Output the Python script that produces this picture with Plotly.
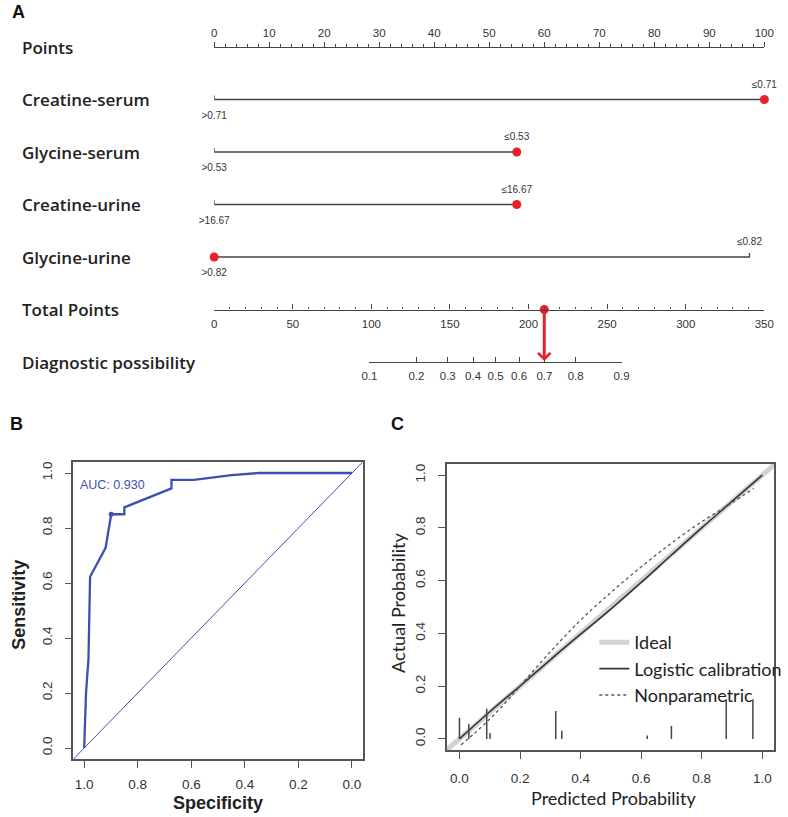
import plotly.graph_objects as go

W, H = 788, 817

# ---------------- Panel A: nomogram data ----------------
row_labels = ["Points", "Creatine-serum", "Glycine-serum", "Creatine-urine",
              "Glycine-urine", "Total Points", "Diagnostic possibility"]
variables = ["Creatine-serum", "Glycine-serum", "Creatine-urine", "Glycine-urine"]
low_labels = [">0.71", ">0.53", ">16.67", ">0.82"]
high_labels = ["≤0.71", "≤0.53", "≤16.67", "≤0.82"]
low_points = [0, 0, 0, 0]
high_points = [100, 55, 55, 97.3]
selected_points = [100, 55, 55, 0]
points_ticks = list(range(0, 101, 10))
total_ticks = list(range(0, 351, 50))
prob_labels = ["0.1", "0.2", "0.3", "0.4", "0.5", "0.6", "0.7", "0.8", "0.9"]
prob_points = [98.8, 128.7, 148.6, 164.7, 179.0, 194.0, 210.1, 230.0, 259.2]

# ---------------- Panel B: ROC data ----------------
roc_spec = [1.0, 0.993, 0.984, 0.981, 0.978, 0.92, 0.901, 0.899, 0.85, 0.85,
            0.674, 0.674, 0.59, 0.518, 0.45, 0.348, 0.0]
roc_sens = [0.0, 0.203, 0.322, 0.442, 0.623, 0.728, 0.83, 0.85, 0.85, 0.875,
            0.944, 0.975, 0.975, 0.984, 0.992, 1.0, 1.0]
roc_dot = (0.899, 0.85)
auc_text = "AUC: 0.930"
diag_spec = [1.04, -0.04]

# ---------------- Panel C: calibration data ----------------
ideal_x = [-0.05, 1.05]
logit_pred = [0.0, 0.1, 0.2, 0.3, 0.4, 0.5, 0.6, 0.7, 0.8, 0.9, 1.0]
logit_act = [0.0, 0.103, 0.2, 0.3, 0.397, 0.492, 0.593, 0.697, 0.8, 0.9, 1.0]
np_pred = [0.005, 0.05, 0.1, 0.15, 0.2, 0.3, 0.4, 0.5, 0.6, 0.7, 0.8, 0.9, 0.972]
np_act = [-0.023, 0.022, 0.075, 0.135, 0.2, 0.33, 0.45, 0.555, 0.652, 0.742, 0.823, 0.895, 0.95]
rug_pos = [0.0, 0.031, 0.09, 0.101, 0.318, 0.338, 0.62, 0.70, 0.881, 0.969]
rug_h = [0.08, 0.057, 0.114, 0.022, 0.106, 0.031, 0.013, 0.049, 0.15, 0.15]

# ---------------- layout constants ----------------
RED = "#e8202a"
AXC = "#444444"
BLUE = "#3c50b4"
TICKFONT_A = dict(family="Liberation Sans Narrow, Arial Narrow, Liberation Sans, Arial", size=11.5, color="#333")
LVLFONT = dict(family="Liberation Sans, Arial", size=10, color="#333")
LABFONT = dict(family="Open Sans, sans-serif", size=17, color="#222", weight=600)
TICKFONT = dict(family="Liberation Sans, Arial", size=13.5, color="#333")
CFONT = dict(family="Lato, Open Sans, sans-serif", size=18, color="#222")

A_L, A_R = 211, 774          # pixel ends of Points / Total Points axes
ROW0, ROWSTEP = 47, 52.5     # pixel y of first row and spacing
A_BOTTOM = 395


def px(x):
    return x / W


def py(y):
    return 1 - y / H


def row_px(i):
    return ROW0 + ROWSTEP * i


fig = go.Figure()

# --- variable lines (with small end ticks) ---
lx, ly = [], []
tk = 0.075
for i, (lo, hi) in enumerate(zip(low_points, high_points)):
    r = i + 1
    lx += [lo, lo, hi, hi, None]
    ly += [r - tk, r, r, r - tk, None]
fig.add_trace(go.Scatter(x=lx, y=ly, mode="lines", line=dict(color=AXC, width=1.3),
                         xaxis="x", yaxis="y", hoverinfo="skip", showlegend=False, cliponaxis=False))

rows_var = [i + 1 for i in range(len(variables))]
fig.add_trace(go.Scatter(x=low_points, y=[r + 0.32 for r in rows_var], text=low_labels, mode="text",
                         textfont=LVLFONT, xaxis="x", yaxis="y", showlegend=False, cliponaxis=False))
fig.add_trace(go.Scatter(x=high_points, y=[r - 0.27 for r in rows_var], text=high_labels, mode="text",
                         textfont=LVLFONT, xaxis="x", yaxis="y", showlegend=False, cliponaxis=False))
fig.add_trace(go.Scatter(x=selected_points, y=rows_var, mode="markers",
                         marker=dict(color=RED, size=9), xaxis="x", yaxis="y",
                         showlegend=False, cliponaxis=False))

total = sum(selected_points)
fig.add_trace(go.Scatter(x=[total], y=[5], mode="markers", marker=dict(color=RED, size=9),
                         xaxis="x2", yaxis="y", showlegend=False, cliponaxis=False))
fig.add_trace(go.Scatter(x=[prob_points[0]], y=[6], mode="markers", marker=dict(opacity=0),
                         xaxis="x3", yaxis="y", showlegend=False, hoverinfo="skip"))

fig.add_annotation(x=total, y=6, xref="x2", yref="y", ax=total, ay=5, axref="x2", ayref="y",
                   text="", showarrow=True, arrowhead=4, arrowsize=0.8, arrowwidth=3,
                   arrowcolor=RED, standoff=1, startstandoff=0)

for i, lab in enumerate(row_labels):
    fig.add_annotation(x=px(12), y=i, xref="paper", yref="y", text=lab, showarrow=False,
                       xanchor="left", yanchor="middle", font=LABFONT)

# ---------------- Panel B traces ----------------
fig.add_trace(go.Scatter(x=diag_spec, y=[1 - s for s in diag_spec], mode="lines",
                         line=dict(color=BLUE, width=1), xaxis="x4", yaxis="y4",
                         showlegend=False, hoverinfo="skip"))
fig.add_trace(go.Scatter(x=roc_spec, y=roc_sens, mode="lines", line=dict(color=BLUE, width=2.3),
                         xaxis="x4", yaxis="y4", showlegend=False))
fig.add_trace(go.Scatter(x=[roc_dot[0]], y=[roc_dot[1]], mode="markers",
                         marker=dict(color=BLUE, size=5), xaxis="x4", yaxis="y4", showlegend=False))
fig.add_annotation(x=0.896, y=0.958, xref="x4", yref="y4", text=auc_text, showarrow=False,
                   xanchor="center", yanchor="middle",
                   font=dict(family="Liberation Sans, Arial", size=12.5, color=BLUE))

# ---------------- Panel C traces ----------------
fig.add_trace(go.Scatter(x=ideal_x, y=ideal_x, mode="lines", name="Ideal",
                         line=dict(color="#d2d2d2", width=5), xaxis="x5", yaxis="y5"))
fig.add_trace(go.Scatter(x=logit_pred, y=logit_act, mode="lines", name="Logistic calibration",
                         line=dict(color="#333333", width=1.6, shape="spline"), xaxis="x5", yaxis="y5"))
fig.add_trace(go.Scatter(x=np_pred, y=np_act, mode="lines", name="Nonparametric",
                         line=dict(color="#555555", width=1.3, dash="dot", shape="spline"),
                         xaxis="x5", yaxis="y5"))
rx, ry = [], []
for p, h in zip(rug_pos, rug_h):
    rx += [p, p, None]
    ry += [0, h, None]
fig.add_trace(go.Scatter(x=rx, y=ry, mode="lines", line=dict(color="#444", width=1.5),
                         xaxis="x5", yaxis="y5", showlegend=False, hoverinfo="skip"))

# ---------------- layout ----------------
a_dom = [px(A_L), px(A_R)]
scale = (A_R - A_L) / 350.0
d_dom = [px(A_L + prob_points[0] * scale), px(A_L + prob_points[-1] * scale)]

common_nom = dict(showgrid=False, zeroline=False, showline=True, linecolor=AXC, linewidth=1.3,
                  tickcolor=AXC, tickwidth=1.2, ticklen=5, tickfont=TICKFONT_A, anchor="free",
                  fixedrange=True)

box = dict(showgrid=False, zeroline=False, showline=True, mirror=True, linecolor="#555",
           linewidth=1.5, ticks="outside", ticklen=7, tickcolor="#555", tickwidth=1.3,
           tickfont=TICKFONT, tickvals=[0, 0.2, 0.4, 0.6, 0.8, 1.0],
           ticktext=["0.0", "0.2", "0.4", "0.6", "0.8", "1.0"])

fig.update_layout(
    width=W, height=H, margin=dict(l=0, r=0, t=0, b=0), autosize=False,
    paper_bgcolor="white", plot_bgcolor="rgba(0,0,0,0)",
    xaxis=dict(common_nom, domain=a_dom, range=[0, 100], side="top", position=py(row_px(0)),
               ticks="outside", tickvals=points_ticks,
               minor=dict(dtick=2, ticks="outside", ticklen=2.5, tickcolor=AXC, tickwidth=1)),
    xaxis2=dict(common_nom, domain=a_dom, range=[0, 350], side="bottom", position=py(row_px(5)),
                ticks="inside", tickvals=total_ticks, ticklabelstandoff=4,
                minor=dict(dtick=10, ticks="inside", ticklen=2.5, tickcolor=AXC, tickwidth=1)),
    xaxis3=dict(common_nom, domain=d_dom, range=[prob_points[0], prob_points[-1]], side="bottom",
                position=py(row_px(6)), ticks="inside", tickvals=prob_points, ticktext=prob_labels,
                ticklabelstandoff=3),
    yaxis=dict(domain=[py(A_BOTTOM), 1], range=[(A_BOTTOM - ROW0) / ROWSTEP, -ROW0 / ROWSTEP],
               visible=False, fixedrange=True),
    xaxis4=dict(box, domain=[px(67), px(363)], anchor="y4", range=[1.04, -0.04], ticklabelstandoff=5),
    yaxis4=dict(box, domain=[py(759), py(462)], anchor="x4", range=[-0.04, 1.04], tickangle=-90,
                ticklabelstandoff=7),
    xaxis5=dict(box, domain=[px(449), px(784)], anchor="y5", range=[-0.042, 1.039], ticklabelstandoff=8),
    yaxis5=dict(box, domain=[py(750), py(464)], anchor="x5", range=[-0.042, 1.042], tickangle=-90,
                ticklabelstandoff=8),
    legend=dict(x=px(600), y=py(624), xanchor="left", yanchor="top", bgcolor="rgba(0,0,0,0)",
                font=CFONT, itemwidth=30, tracegroupgap=0),
    showlegend=True,
)

# axis titles & panel letters
fig.add_annotation(x=px(11), y=py(605), xref="paper", yref="paper", text="Sensitivity",
                   textangle=-90, showarrow=False, xanchor="center", yanchor="middle",
                   font=dict(family="Liberation Sans, Arial", size=18, color="#222", weight="bold"))
fig.add_annotation(x=px(215), y=py(803), xref="paper", yref="paper", text="Specificity",
                   showarrow=False, xanchor="center", yanchor="middle",
                   font=dict(family="Liberation Sans, Arial", size=18, color="#222", weight="bold"))
fig.add_annotation(x=px(399), y=py(603), xref="paper", yref="paper", text="Actual Probability",
                   textangle=-90, showarrow=False, xanchor="center", yanchor="middle", font=CFONT)
fig.add_annotation(x=px(620), y=py(798), xref="paper", yref="paper", text="Predicted Probability",
                   showarrow=False, xanchor="center", yanchor="middle", font=CFONT)
for letter, lx_, ly_ in [("A", 2, 12), ("B", 0, 424), ("C", 390, 424)]:
    fig.add_annotation(x=px(lx_), y=py(ly_), xref="paper", yref="paper", text=letter,
                       showarrow=False, xanchor="left", yanchor="middle",
                       font=dict(family="Liberation Sans, Arial", size=18, color="#111", weight="bold"))

fig.write_html(
    "out.html",
    config={"responsive": False, "displayModeBar": False},
    post_script="document.body.style.margin='0';document.body.style.padding='0';"
                "document.documentElement.style.overflow='hidden';document.body.style.overflow='hidden';",
)
